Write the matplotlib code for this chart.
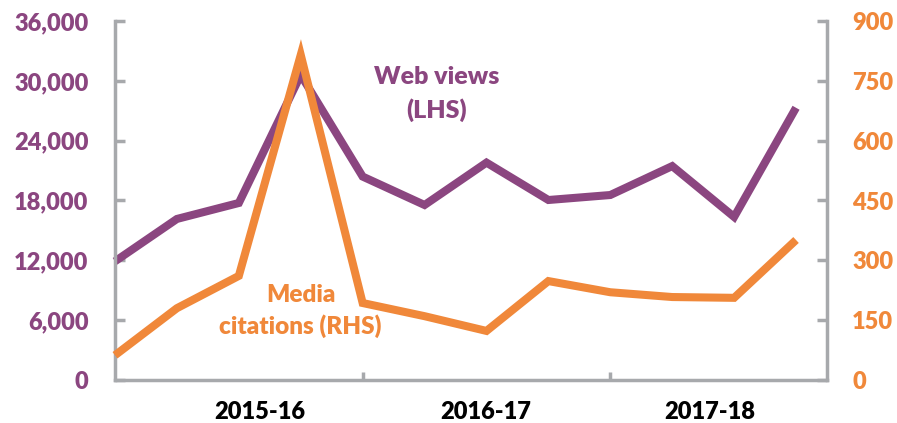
import matplotlib
matplotlib.use("Agg")
import matplotlib.pyplot as plt
import numpy as np

plt.rcParams['font.family'] = ['Lato', 'DejaVu Sans']

# Data (quarterly, 2015-16 .. 2017-18)
quarters = list(range(12))
web_views = [11900, 16150, 17750, 30600, 20400, 17550, 21800, 18050, 18550, 21450, 16350, 27300]
media_citations = [62, 180, 261, 815, 193, 160, 123, 248, 220, 208, 206, 351]
year_labels = ["2015-16", "2016-17", "2017-18"]
year_label_pos = [2.34, 5.98, 9.61]
year_boundaries = [4, 8]
left_ticks = [0, 6000, 12000, 18000, 24000, 30000, 36000]
right_ticks = [0, 150, 300, 450, 600, 750, 900]

purple = "#8B4680"
orange = "#F0883A"
grey = "#A7A9AC"

fig = plt.figure(figsize=(8.97, 4.23), dpi=100)
ax = fig.add_axes([115/897, 43/423, (827-115)/897, (380-21)/423])
ax2 = ax.twinx()

ax.plot(quarters, web_views, color=purple, lw=5.8, solid_joinstyle='miter', solid_capstyle='butt', clip_on=False)
ax2.plot(quarters, media_citations, color=orange, lw=5.8, solid_joinstyle='miter', solid_capstyle='butt', clip_on=False)

ax.set_xlim(0, 11.5)
ax.set_ylim(0, 36000)
ax2.set_ylim(0, 900)

for a in (ax, ax2):
    for s in a.spines.values():
        s.set_color(grey)
        s.set_linewidth(2.5)
    a.spines['top'].set_visible(False)
ax.spines['right'].set_visible(False)
ax2.spines['left'].set_visible(False)
ax2.spines['bottom'].set_visible(False)

ax.set_yticks(left_ticks)
ax.set_yticklabels([f"{v:,}" for v in left_ticks])
ax.tick_params(axis='y', direction='in', length=7, width=2.5, color=grey,
               labelcolor=purple, labelsize=17, pad=19)
ax2.set_yticks(right_ticks)
ax2.set_yticklabels([str(v) for v in right_ticks])
ax2.tick_params(axis='y', direction='in', length=7, width=2.5, color=grey,
                labelcolor=orange, labelsize=17, pad=18)
for lbl in ax.get_yticklabels() + ax2.get_yticklabels():
    lbl.set_fontweight('heavy')

ax.set_xticks(year_boundaries)
ax.set_xticklabels([])
ax.tick_params(axis='x', which='major', direction='in', length=6, width=2.5, color=grey)
ax.set_xticks(year_label_pos, minor=True)
ax.set_xticklabels(year_labels, minor=True)
ax.tick_params(axis='x', which='minor', length=0, pad=15, labelsize=17, labelcolor='black')
for lbl in ax.get_xticklabels(minor=True):
    lbl.set_fontweight('heavy')

ax.text(5.2, 28700, "Web views\n(LHS)", color=purple, fontsize=18, fontweight='heavy',
        ha='center', va='center', linespacing=1.5)
ax2.text(3.0, 173, "Media\ncitations (RHS)", color=orange, fontsize=17.5, fontweight='heavy',
         ha='center', va='center', linespacing=1.45)

fig.savefig("out.png", dpi=100)
